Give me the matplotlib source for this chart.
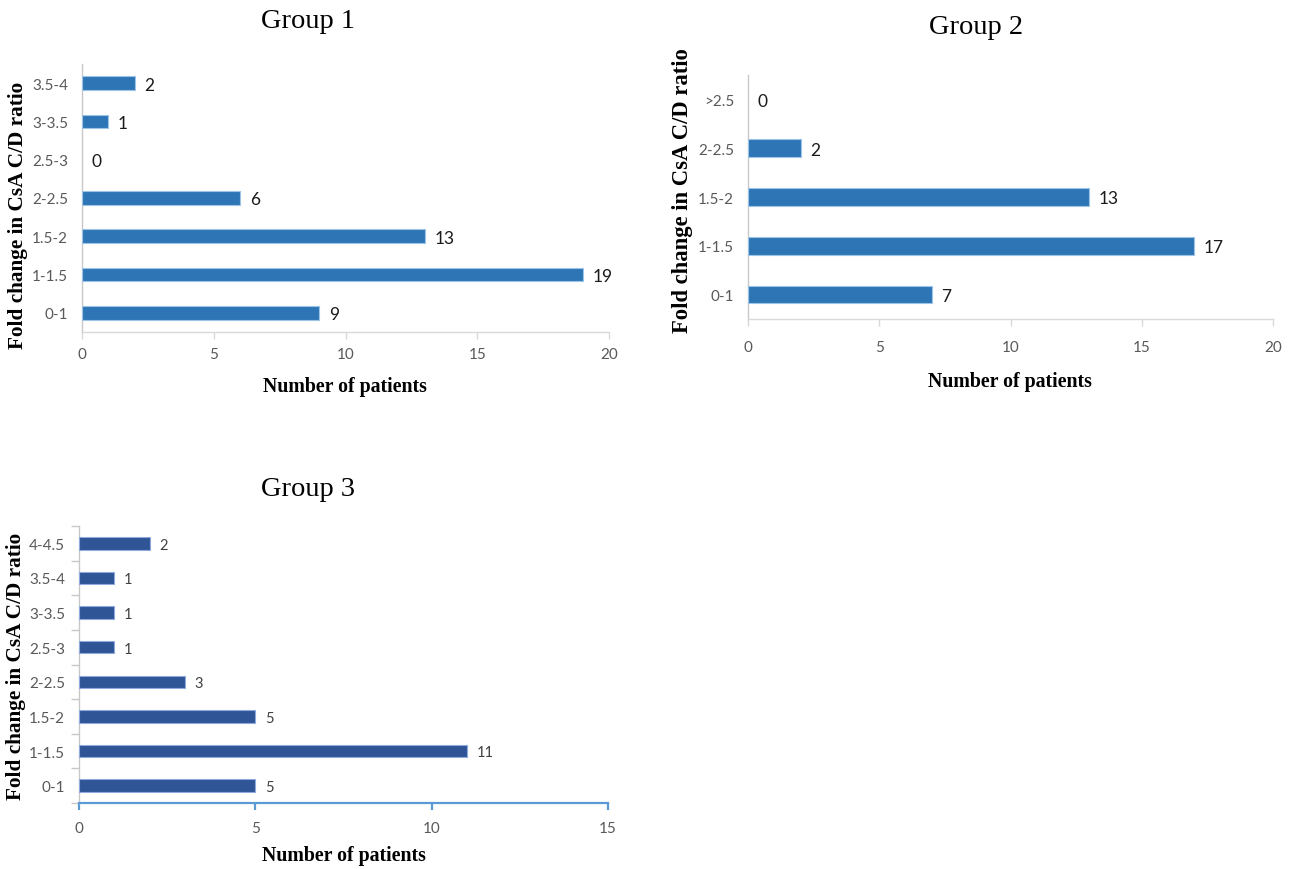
import matplotlib
matplotlib.use('Agg')
import matplotlib.pyplot as plt
from matplotlib import font_manager
from matplotlib.ticker import MultipleLocator, FixedLocator

# ---------------- data ----------------
g1_cats = ['0-1', '1-1.5', '1.5-2', '2-2.5', '2.5-3', '3-3.5', '3.5-4']
g1_vals = [9, 19, 13, 6, 0, 1, 2]

g2_cats = ['0-1', '1-1.5', '1.5-2', '2-2.5', '>2.5']
g2_vals = [7, 17, 13, 2, 0]

g3_cats = ['0-1', '1-1.5', '1.5-2', '2-2.5', '2.5-3', '3-3.5', '3.5-4', '4-4.5']
g3_vals = [5, 11, 5, 3, 1, 1, 1, 2]

titles = ['Group 1', 'Group 2', 'Group 3']
xmax = [20, 20, 15]
ylabel = 'Fold change in CsA C/D ratio'
xlabel = 'Number of patients'

# ---------------- fonts ----------------
installed = {f.name for f in font_manager.fontManager.ttflist}
if 'Liberation Sans Narrow' in installed:
    SANS = ['Liberation Sans Narrow', 'DejaVu Sans']
    k = 1.12
else:
    SANS = ['Lato', 'DejaVu Sans']
    k = 1.0
SERIF = ['Liberation Serif', 'DejaVu Serif']
TICK_C = '#595959'

# ---------------- layout ----------------
W, H = 1296, 870
fig = plt.figure(figsize=(W / 100, H / 100), dpi=100)


def rect(l, r, b, t):
    return [l / W, 1 - b / H, (r - l) / W, (b - t) / H]


def ftext(x, y, s, **kw):
    fig.text(x / W, 1 - y / H, s, **kw)


def panel(box, cats, vals, xm, color, edge, val_size, val_color, bottom_color,
          bottom_lw, ytick_marks, xpad):
    ax = fig.add_axes(rect(*box))
    y = list(range(len(cats)))
    lws = [0.8 if v > 0 else 0 for v in vals]
    ax.barh(y, vals, height=0.36, color=color, edgecolor=edge, linewidth=lws,
            zorder=3)
    ax.set_xlim(0, xm)
    ax.set_ylim(-0.5, len(cats) - 0.5)
    ax.set_yticks(y)
    ax.set_yticklabels(cats)
    ax.xaxis.set_major_locator(MultipleLocator(5))
    for s in ['top', 'right']:
        ax.spines[s].set_visible(False)
    ax.spines['left'].set_color('#C8C8C8')
    ax.spines['left'].set_linewidth(1.0)
    ax.spines['bottom'].set_color(bottom_color)
    ax.spines['bottom'].set_linewidth(bottom_lw)
    ax.tick_params(axis='x', direction='out', length=5, width=bottom_lw,
                   color=bottom_color, labelcolor=TICK_C, labelsize=11 * k,
                   pad=xpad)
    ax.tick_params(axis='y', which='major', length=0, labelcolor=TICK_C,
                   labelsize=11 * k, pad=10)
    if ytick_marks:
        ax.yaxis.set_minor_locator(FixedLocator([i - 0.5 for i in range(len(cats) + 1)]))
        ax.tick_params(axis='y', which='minor', direction='out', length=6,
                       width=1.0, color='#C8C8C8')
    for lab in ax.get_xticklabels() + ax.get_yticklabels():
        lab.set_family(SANS)
    for yi, v in zip(y, vals):
        ax.annotate(str(v), (v, yi), xytext=(7, -1), textcoords='offset points',
                    ha='left', va='center', fontsize=val_size * k,
                    color=val_color, family=SANS)
    return ax


panel((82, 609, 333, 65), g1_cats, g1_vals, xmax[0], '#2E75B6', '#9DC3E6',
      12.5, '#1a1a1a', '#D9D9D9', 1.0, False, 6)
panel((748, 1273, 320, 76), g2_cats, g2_vals, xmax[1], '#2E75B6', '#9DC3E6',
      12.5, '#1a1a1a', '#D9D9D9', 1.0, False, 10)
panel((79, 608, 804, 527), g3_cats, g3_vals, xmax[2], '#2F5597', '#8FAADC',
      10.5, '#404040', '#5B9BD5', 1.6, True, 8)

# titles
ftext(308, 22, titles[0], ha='center', va='center', fontsize=20.5, family=SERIF)
ftext(976, 28, titles[1], ha='center', va='center', fontsize=20.5, family=SERIF)
ftext(308, 490, titles[2], ha='center', va='center', fontsize=20.5, family=SERIF)

# axis labels
ftext(18, 215, ylabel, rotation=90, ha='center', va='center', fontsize=15.3,
      fontweight='bold', family=SERIF)
ftext(683, 191, ylabel, rotation=90, ha='center', va='center', fontsize=16.3,
      fontweight='bold', family=SERIF)
ftext(16, 666, ylabel, rotation=90, ha='center', va='center', fontsize=15.3,
      fontweight='bold', family=SERIF)

ftext(345, 387, xlabel, ha='center', va='center', fontsize=14.3,
      fontweight='bold', family=SERIF)
ftext(1010, 382, xlabel, ha='center', va='center', fontsize=14.3,
      fontweight='bold', family=SERIF)
ftext(344, 856, xlabel, ha='center', va='center', fontsize=14.3,
      fontweight='bold', family=SERIF)

fig.savefig('out.png', dpi=100, facecolor='white')
